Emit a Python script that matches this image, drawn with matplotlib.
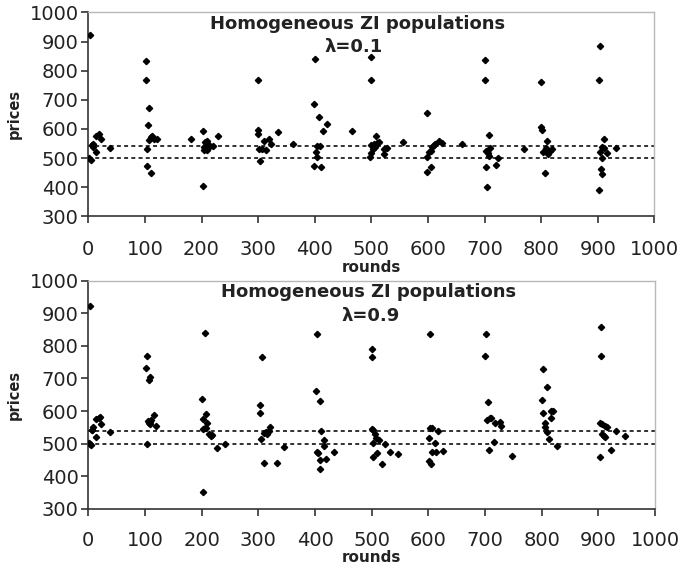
import matplotlib
matplotlib.use("Agg")
import matplotlib.pyplot as plt

# price observations per round, lambda = 0.1 (top panel)
rounds_01 = [3, 1, 4, 6, 8, 9, 13, 14, 18, 22, 38,
             102, 102, 108, 106, 103, 103, 110, 108, 111, 113, 116, 121,
             182, 203, 203, 206, 204, 209, 208, 204, 211, 213, 220, 229, 210,
             300, 300, 300, 303, 311, 302, 307, 314, 319, 323, 336, 362,
             401, 399, 408, 414, 421, 404, 410, 402, 404, 399, 411, 466,
             500, 500, 508, 500, 504, 510, 513, 506, 503, 500, 498, 523, 523, 528, 556,
             599, 598, 602, 605, 607, 610, 613, 619, 625, 606, 599, 661,
             700, 700, 708, 710, 703, 706, 708, 723, 720, 702, 704, 769,
             800, 800, 802, 811, 808, 819, 816, 803, 813, 807,
             904, 903, 912, 912, 904, 916, 908, 932, 905, 908, 902, 908]
prices_01 = [921, 501, 495, 544, 539, 547, 522, 576, 583, 564, 535,
             833, 768, 673, 615, 532, 473, 448, 563, 572, 575, 567, 564,
             564, 592, 403, 554, 539, 558, 531, 528, 535, 544, 543, 575, 527,
             768, 597, 584, 490, 558, 533, 531, 528, 564, 550, 588, 547,
             839, 685, 641, 592, 616, 543, 540, 522, 505, 473, 468, 593,
             846, 768, 575, 545, 547, 552, 554, 539, 530, 516, 505, 531, 514, 535, 554,
             655, 505, 522, 524, 538, 544, 550, 560, 552, 468, 451, 547,
             838, 768, 579, 535, 524, 516, 508, 502, 476, 469, 401, 533,
             761, 607, 598, 560, 535, 532, 524, 522, 513, 448,
             884, 768, 567, 535, 522, 519, 499, 535, 461, 444, 389, 537]

# price observations per round, lambda = 0.9 (bottom panel)
rounds_09 = [3, 1, 3, 5, 6, 9, 7, 13, 13, 18, 20, 22, 38,
             103, 101, 108, 107, 103, 105, 108, 110, 109, 107, 115, 119,
             205, 201, 207, 203, 209, 203, 206, 208, 213, 216, 219, 203, 227, 242,
             306, 303, 303, 305, 310, 313, 315, 318, 321, 310, 332, 345,
             403, 401, 408, 410, 416, 416, 403, 405, 408, 408, 419, 433,
             500, 501, 500, 503, 506, 507, 502, 513, 523, 502, 509, 518, 533, 546,
             602, 603, 606, 601, 617, 611, 606, 614, 626, 601, 605,
             702, 700, 705, 703, 708, 710, 717, 727, 728, 715, 707, 748,
             803, 809, 801, 803, 817, 820, 816, 805, 805, 809, 812, 827,
             905, 905, 903, 907, 911, 915, 907, 909, 911, 931, 946, 923, 903]
prices_09 = [922, 502, 498, 496, 543, 550, 541, 520, 575, 580, 582, 561, 536,
             768, 732, 704, 696, 500, 569, 567, 571, 561, 563, 588, 554,
             839, 638, 592, 577, 563, 546, 547, 547, 528, 523, 526, 352, 487, 500,
             767, 617, 595, 514, 531, 536, 529, 539, 551, 439, 441, 488,
             837, 663, 631, 540, 510, 494, 473, 471, 449, 422, 452, 474,
             789, 767, 546, 541, 528, 518, 503, 512, 500, 459, 471, 437, 474, 468,
             837, 548, 548, 518, 538, 501, 474, 474, 478, 445, 437,
             837, 768, 628, 571, 578, 580, 563, 566, 555, 506, 481, 461,
             729, 673, 635, 595, 599, 599, 580, 563, 551, 534, 513, 492,
             859, 768, 563, 559, 554, 551, 529, 523, 520, 539, 523, 481, 459]

band = [500, 540]
x_ticks = list(range(0, 1001, 100))
y_ticks = list(range(300, 1001, 100))

fig = plt.figure(figsize=(6.81, 5.65), dpi=100)
ax_top = fig.add_axes([0.1297, 0.617, 0.8311, 0.361])
ax_bot = fig.add_axes([0.1297, 0.0997, 0.8323, 0.4033])

panels = [
    (ax_top, rounds_01, prices_01, "λ=0.1", (0.475, 0.943), (0.469, 0.830), -0.212, 12),
    (ax_bot, rounds_09, prices_09, "λ=0.9", (0.494, 0.951), (0.498, 0.845), -0.182, 11),
]

for ax, rx, py, lam, tpos, lpos, xlab_y, xpad in panels:
    for level in band:
        ax.axhline(level, color="#222222", lw=1.3, ls=(0, (2.2, 1.8)), zorder=1)
    ax.plot(rx, py, ls="none", marker="D", ms=3.2, color="black", zorder=3)

    ax.set_xlim(0, 1000)
    ax.set_ylim(300, 1000)
    ax.set_xticks(x_ticks)
    ax.set_yticks(y_ticks)
    ax.tick_params(axis="both", direction="out", length=5, width=1.1,
                   labelsize=14, colors="#222222")
    ax.tick_params(axis="x", pad=xpad)
    ax.tick_params(axis="y", pad=2)

    for side in ["left", "bottom"]:
        ax.spines[side].set_color("#333333")
        ax.spines[side].set_linewidth(1.2)
    for side in ["top", "right"]:
        ax.spines[side].set_color("#b8b8b8")
        ax.spines[side].set_linewidth(1.0)

    ax.set_xlabel("rounds", fontsize=11, fontweight="bold", color="#222222")
    ax.xaxis.set_label_coords(0.5, xlab_y)
    ax.set_ylabel("prices", fontsize=10.5, fontweight="bold", color="#222222")
    ax.yaxis.set_label_coords(-0.117, 0.5)

    ax.text(tpos[0], tpos[1], "Homogeneous ZI populations", transform=ax.transAxes,
            ha="center", va="center", fontsize=13, fontweight="bold", color="#222222")
    ax.text(lpos[0], lpos[1], lam, transform=ax.transAxes,
            ha="center", va="center", fontsize=13, fontweight="bold", color="#222222")

fig.savefig("out.png", dpi=100)
